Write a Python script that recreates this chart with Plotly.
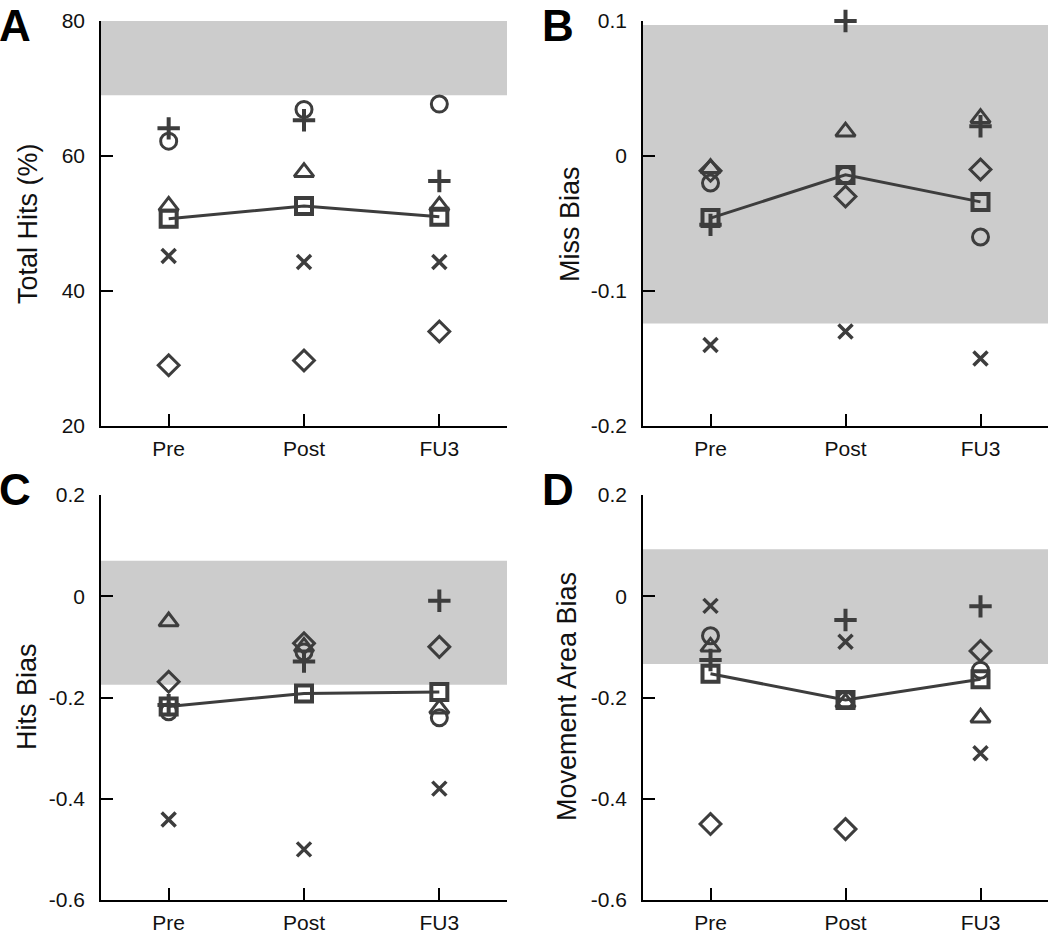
import plotly.graph_objects as go

sessions = ["Pre", "Post", "FU3"]
xpos = [1, 2, 3]

# Panel A: Total Hits (%)
a_circle = [62.2, 66.9, 67.7]
a_plus = [64.1, 65.3, 56.3]
a_triangle = [52.6, 57.6, 52.6]
a_x = [45.2, 44.3, 44.3]
a_diamond = [29.0, 29.7, 34.0]
a_square = [50.7, 52.6, 51.0]
a_band = [69.0, 80.0]

# Panel B: Miss Bias
b_circle = [-0.020, -0.014, -0.060]
b_plus = [-0.051, 0.100, 0.022]
b_triangle = [-0.009, 0.018, 0.028]
b_x = [-0.140, -0.130, -0.150]
b_diamond = [-0.011, -0.030, -0.010]
b_square = [-0.046, -0.014, -0.034]
b_band = [-0.124, 0.097]

# Panel C: Hits Bias
c_circle = [-0.228, -0.110, -0.240]
c_plus = [-0.215, -0.129, -0.009]
c_triangle = [-0.050, -0.100, -0.222]
c_x = [-0.441, -0.500, -0.380]
c_diamond = [-0.169, -0.093, -0.100]
c_square = [-0.218, -0.192, -0.189]
c_band = [-0.175, 0.070]

# Panel D: Movement Area Bias
d_circle = [-0.078, -0.205, -0.146]
d_plus = [-0.126, -0.047, -0.020]
d_triangle = [-0.100, -0.210, -0.240]
d_x = [-0.019, -0.090, -0.310]
d_diamond = [-0.450, -0.460, -0.108]
d_square = [-0.153, -0.205, -0.164]
d_band = [-0.134, 0.093]

y_titles = ["Total Hits (%)", "Miss Bias", "Hits Bias", "Movement Area Bias"]
letters = ["A", "B", "C", "D"]
y_ticks = [
    ([20, 40, 60, 80], ["20", "40", "60", "80"]),
    ([-0.2, -0.1, 0, 0.1], ["-0.2", "-0.1", "0", "0.1"]),
    ([-0.6, -0.4, -0.2, 0, 0.2], ["-0.6", "-0.4", "-0.2", "0", "0.2"]),
    ([-0.6, -0.4, -0.2, 0, 0.2], ["-0.6", "-0.4", "-0.2", "0", "0.2"]),
]
y_ranges = [[20, 80], [-0.2, 0.1], [-0.6, 0.2], [-0.6, 0.2]]

panels = [
    (a_circle, a_plus, a_triangle, a_x, a_diamond, a_square, a_band),
    (b_circle, b_plus, b_triangle, b_x, b_diamond, b_square, b_band),
    (c_circle, c_plus, c_triangle, c_x, c_diamond, c_square, c_band),
    (d_circle, d_plus, d_triangle, d_x, d_diamond, d_square, d_band),
]

W, H = 1050, 934
xdoms = [[101 / W, 507 / W], [643 / W, 1048 / W]]
ydoms = [[1 - 426 / H, 1 - 21 / H], [1 - 900 / H, 1 - 495 / H]]

MC = "#3d3d3d"
FONT = "Liberation Sans, Arial, sans-serif"

fig = go.Figure()
layout = dict(
    width=W, height=H,
    margin=dict(l=0, r=0, t=0, b=0, pad=0, autoexpand=False),
    paper_bgcolor="white", plot_bgcolor="white",
    showlegend=False,
    font=dict(family=FONT, color="#111111"),
)
shapes = []
annotations = []

title_pos = [(28, 224), (570, 224), (27, 697), (567, 697)]
letter_pos = [(-2, 0), (541, 0), (-2, 464), (541, 464)]

for i, (circ, plus, tri, xs, dia, sq, band) in enumerate(panels):
    col = i % 2
    row = i // 2
    xa = "x" if i == 0 else f"x{i+1}"
    ya = "y" if i == 0 else f"y{i+1}"
    xkey = "xaxis" if i == 0 else f"xaxis{i+1}"
    ykey = "yaxis" if i == 0 else f"yaxis{i+1}"

    layout[xkey] = dict(
        domain=xdoms[col], anchor=ya, range=[0.5, 3.5],
        tickvals=xpos, ticktext=sessions,
        ticks="inside", ticklen=12, tickwidth=1.5, tickcolor="black",
        showline=True, linecolor="black", linewidth=1.5,
        showgrid=False, zeroline=False, mirror=False,
        tickfont=dict(size=21, family=FONT, color="#111111"),
        ticklabelstandoff=3, fixedrange=True, automargin=False,
    )
    tv, tt = y_ticks[i]
    layout[ykey] = dict(
        domain=ydoms[row], anchor=xa, range=y_ranges[i],
        tickvals=tv, ticktext=tt,
        ticks="inside", ticklen=12, tickwidth=1.5, tickcolor="black",
        showline=True, linecolor="black", linewidth=1.5,
        showgrid=False, zeroline=False, mirror=False,
        tickfont=dict(size=21, family=FONT, color="#111111"),
        ticklabelstandoff=10, fixedrange=True, automargin=False,
    )

    shapes.append(dict(
        type="rect", xref=f"{xa} domain", yref=ya,
        x0=0, x1=1, y0=band[0], y1=band[1],
        fillcolor="#cccccc", line=dict(width=0), layer="below",
    ))

    def add(vals, symbol, size, lw):
        fig.add_trace(go.Scatter(
            x=xpos, y=vals, mode="markers", xaxis=xa, yaxis=ya,
            marker=dict(symbol=symbol, size=size, color=MC,
                        line=dict(color=MC, width=lw)),
            cliponaxis=False,
        ))

    add(dia, "diamond-open", 16, 3)
    add(xs, "x-thin-open", 14, 3.5)
    add(circ, "circle-open", 16, 3)
    add(tri, "triangle-up-open", 17, 3)
    add(plus, "cross-thin-open", 16, 4)
    fig.add_trace(go.Scatter(
        x=xpos, y=sq, mode="lines+markers", xaxis=xa, yaxis=ya,
        line=dict(color=MC, width=3),
        marker=dict(symbol="square-open", size=16, color=MC,
                    line=dict(color=MC, width=4)),
        cliponaxis=False,
    ))

    tx, ty = title_pos[i]
    annotations.append(dict(
        text=y_titles[i], xref="paper", yref="paper",
        x=tx / W, y=1 - ty / H, xanchor="center", yanchor="middle",
        textangle=-90, showarrow=False,
        font=dict(size=27, family=FONT, color="#111111"),
    ))
    lx, ly = letter_pos[i]
    annotations.append(dict(
        text=f"<b>{letters[i]}</b>", xref="paper", yref="paper",
        x=lx / W, y=1 - ly / H, xanchor="left", yanchor="top",
        showarrow=False, borderpad=0,
        font=dict(size=44, family=FONT, color="black"),
    ))

layout["shapes"] = shapes
layout["annotations"] = annotations
fig.update_layout(**layout)
fig.write_html(
    "out.html",
    config={"displayModeBar": False},
    post_script="document.body.style.margin='0';document.body.style.overflow='hidden';",
)
